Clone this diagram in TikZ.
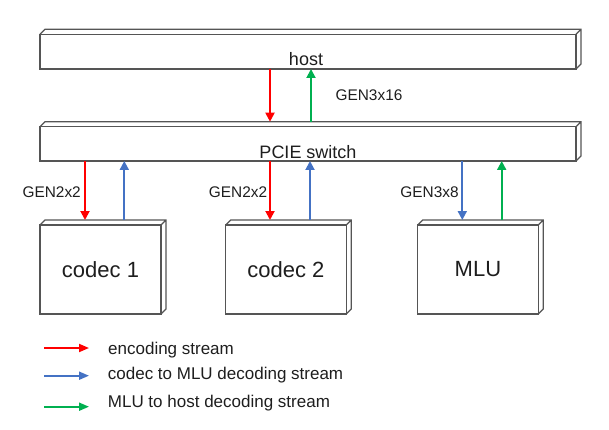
\documentclass[tikz,border=0pt]{standalone}
\usepackage{fontspec}
\setmainfont{Liberation Sans}
\usetikzlibrary{arrows.meta,calc}
\definecolor{boxgray}{RGB}{85,85,85}
\definecolor{encred}{RGB}{255,0,0}
\definecolor{decblue}{RGB}{68,114,196}
\definecolor{decgreen}{RGB}{0,176,80}
\definecolor{txt}{RGB}{30,30,30}
\begin{document}
\begin{tikzpicture}[x=1pt,y=-1pt,
  box/.style={draw=boxgray, line width=1.2pt, rectangle, inner sep=0pt, outer sep=0pt, anchor=north west, fill=white, text=txt},
  face/.style={draw=boxgray, line width=1.2pt, line join=miter},
  flow/.style={line width=1.9pt, -{Triangle[length=9pt,width=9pt]}},
  encarrow/.style={flow, draw=encred, fill=encred},
  bluearrow/.style={flow, draw=decblue, fill=decblue},
  greenarrow/.style={flow, draw=decgreen, fill=decgreen},
  legarrow/.style={line width=1.9pt, -{Triangle[length=10pt,width=8pt]}},
  lbl/.style={font=\fontsize{15.4}{18}\selectfont, text=txt, anchor=base, inner sep=0pt},
  legtext/.style={font=\fontsize{17}{20}\selectfont, text=txt, anchor=base west, inner sep=0pt},
  bigtext/.style={font=\fontsize{22}{26}\selectfont},
  bartext/.style={font=\fontsize{18}{21}\selectfont, text=txt, anchor=base},
]
\useasboundingbox (0,0) rectangle (609,430);

% boxes
\node[box, minimum width=536pt, minimum height=34.7pt,
  label={[bartext, yshift=3.3pt, xshift=-2pt]south:host}] (host) at (40,34.3) {};
\node[box, minimum width=536pt, minimum height=34.3pt,
  label={[bartext, yshift=2.7pt]south:PCIE switch}] (pcie) at (40,126.7) {};
\node[box, bigtext, minimum width=121pt, minimum height=89pt] (c1) at (40,225) {codec 1};
\node[box, bigtext, minimum width=120.5pt, minimum height=89pt] (c2) at (225.7,225) {codec 2};
\node[box, bigtext, minimum width=120.5pt, minimum height=89pt] (mlu) at (417.7,225) {MLU};

\foreach \n in {host,pcie,c1,c2,mlu}{
  \draw[face] (\n.north west) -- ++(5,-5) -| ($(\n.south east)+(5,-5)$) -- (\n.south east)
              (\n.north east) -- ++(5,-5);
}

% host <-> PCIE
\draw[encarrow] ([xshift=230pt]host.south west) -- ([xshift=230pt,yshift=5pt]pcie.north west);
\draw[greenarrow] ([xshift=271pt,yshift=5pt]pcie.north west) -- ([xshift=271pt]host.south west);
\node[lbl] (g316) at (369,101) {GEN3x16};

% PCIE <-> codec 1
\draw[encarrow] ([xshift=45pt]pcie.south west) -- ([xshift=45pt,yshift=5pt]c1.north west);
\draw[bluearrow] ([xshift=84.3pt,yshift=5pt]c1.north west) -- ([xshift=84.3pt]pcie.south west);
\node[lbl] (g22a) at (51.7,197.3) {GEN2x2};

% PCIE <-> codec 2
\draw[encarrow] ([xshift=230pt]pcie.south west) -- ([xshift=44.3pt,yshift=5pt]c2.north west);
\draw[bluearrow] ([xshift=84.3pt,yshift=5pt]c2.north west) -- ([xshift=270pt]pcie.south west);
\node[lbl] (g22b) at (238,197.3) {GEN2x2};

% PCIE <-> MLU
\draw[bluearrow] ([xshift=422.3pt]pcie.south west) -- ([xshift=44.6pt,yshift=5pt]mlu.north west);
\draw[greenarrow] ([xshift=84pt,yshift=5pt]mlu.north west) -- ([xshift=461.7pt]pcie.south west);
\node[lbl] (g38) at (429.5,197.7) {GEN3x8};

% legend
\coordinate (la) at (44,348);
\coordinate (lb) at (44,375.7);
\coordinate (lc) at (44,406.7);
\draw[legarrow, draw=encred, fill=encred] (la) -- ++(45,0);
\draw[legarrow, draw=decblue, fill=decblue] (lb) -- ++(45,0);
\draw[legarrow, draw=decgreen, fill=decgreen] (lc) -- ++(45,0);
\node[legtext] (ta) at (108,354) {encoding stream};
\node[legtext] (tb) at (107.7,379.3) {codec to MLU decoding stream};
\node[legtext] (tc) at (107.7,407.7) {MLU to host decoding stream};
\end{tikzpicture}
\end{document}
